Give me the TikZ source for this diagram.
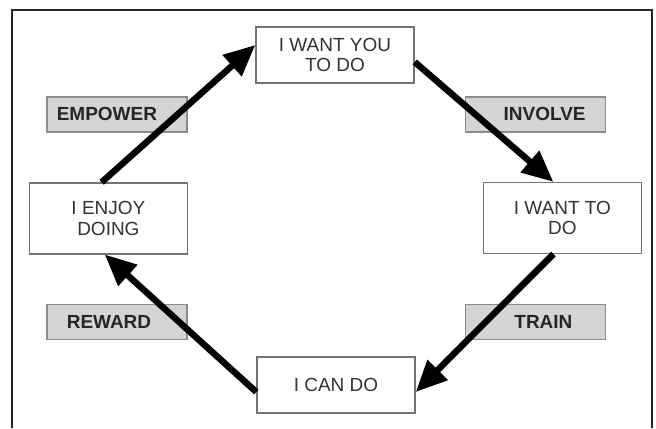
\documentclass[tikz,border=0pt]{standalone}
\usepackage{fontspec}
\setmainfont{Liberation Sans}
\usetikzlibrary{calc, positioning}
\usetikzlibrary{arrows.meta}

\begin{document}
\begin{tikzpicture}[
  stagebox/.style={draw=black!55, line width=1pt, fill=white, minimum width=3.95cm,
    align=center, text=black!80, inner sep=0pt, font=\fontsize{13.5}{14.5}\selectfont},
  actbox/.style={draw=black!45, line width=1pt, fill=black!17, text width=3.5cm,
    minimum height=0.875cm, inner sep=0pt, text=black!85, font=\bfseries\fontsize{13.5}{14.5}\selectfont},
  looparrow/.style={-{Triangle[length=0.78cm, width=0.68cm]}, line width=4.6pt}
]
\useasboundingbox (0,0) rectangle (16.4,10.7);
\draw[line width=1.4pt, black!85] (0.3,0) -- (0.3,10.45) -- (16.29,10.45) -- (16.29,0);

% the four stages
\node[stagebox, minimum height=1.4cm] (wantyou) at (8.375,9.325) {I WANT YOU\\TO DO};
\node[stagebox, minimum height=1.77cm] (wantto) at (14.06,5.25) {I WANT TO\\DO};
\node[stagebox, minimum height=1.4cm] (cando) at (8.4,1.075) {I CAN DO};
\node[stagebox, minimum height=1.77cm] (enjoy) at (2.71,5.24) {I ENJOY\\DOING};

% what moves you on
\node[actbox, align=left] (empower) at (2.92,7.84) {\hspace*{0.25cm}EMPOWER};
\node[actbox, align=right] (involve) at (13.39,7.84) {INVOLVE\hspace*{0.5cm}};
\node[actbox, align=left] (reward) at (2.92,2.65) {\hspace*{0.5cm}REWARD};
\node[actbox, align=right] (train) at (13.39,2.65) {TRAIN\hspace*{0.83cm}};

\draw[looparrow] ([xshift=-0.17cm]enjoy.north) -- ([yshift=0.25cm]wantyou.west);
\draw[looparrow] ([yshift=-0.175cm]wantyou.east) -- ([xshift=-0.225cm]wantto.north);
\draw[looparrow] ([xshift=-0.225cm]wantto.south) -- ([yshift=-0.175cm]cando.east);
\draw[looparrow] ([yshift=-0.175cm]cando.west) -- ([xshift=-0.09cm]enjoy.south);
\end{tikzpicture}
\end{document}
